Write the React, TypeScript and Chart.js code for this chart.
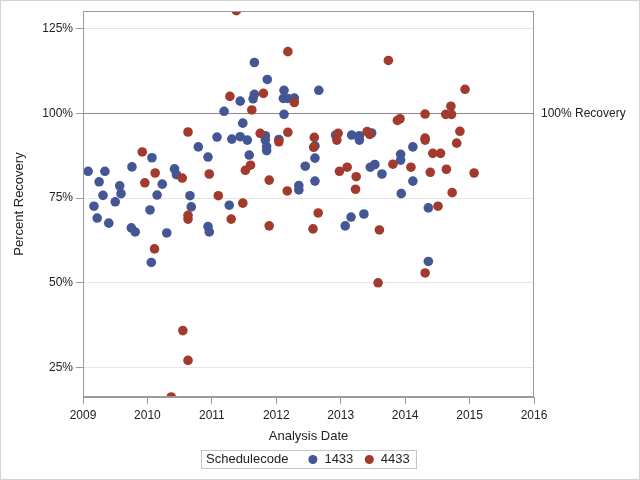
import React, { useEffect, useRef } from "react";
import { Chart, registerables } from "chart.js";

Chart.register(...registerables);

// Analysis dates as decimal years, percent recovery values
const dates1433 = [
  2009.08, 2009.17, 2009.22, 2009.25, 2009.31, 2009.34, 2009.40, 2009.50, 2009.57, 2009.59,
  2009.75, 2009.76, 2009.81, 2010.04, 2010.06, 2010.07, 2010.15, 2010.23, 2010.30, 2010.42,
  2010.45, 2010.66, 2010.68, 2010.79, 2010.94, 2010.94, 2010.96, 2011.08, 2011.19, 2011.27,
  2011.31, 2011.44, 2011.44, 2011.48, 2011.55, 2011.58, 2011.64, 2011.66, 2011.66, 2011.83,
  2011.83, 2011.85, 2011.85, 2011.86, 2012.04, 2012.11, 2012.12, 2012.12, 2012.18, 2012.28,
  2012.35, 2012.35, 2012.45, 2012.60, 2012.60, 2012.60, 2012.66, 2012.92, 2013.07, 2013.16,
  2013.17, 2013.29, 2013.29, 2013.36, 2013.46, 2013.48, 2013.53, 2013.64, 2013.93, 2013.93,
  2013.94, 2014.12, 2014.12, 2014.36, 2014.36,
];
const pct1433 = [
  82.9, 72.6, 69.1, 79.8, 75.8, 82.9, 67.6, 73.9, 78.6, 76.3,
  66.2, 84.2, 65.0, 71.5, 56.0, 86.9, 75.9, 79.1, 64.7, 83.6,
  81.9, 75.7, 72.4, 90.1, 87.1, 66.6, 65.0, 93.0, 100.6, 72.9,
  92.4, 103.6, 93.1, 97.1, 92.1, 87.7, 104.3, 105.6, 115.0, 93.4,
  92.1, 90.2, 89.0, 110.0, 92.3, 104.4, 106.8, 99.7, 104.4, 104.5,
  78.7, 77.4, 84.4, 90.4, 86.8, 80.0, 106.8, 93.6, 66.8, 69.4,
  93.6, 93.4, 92.1, 70.3, 84.1, 94.2, 84.9, 82.1, 87.9, 86.2,
  76.3, 90.1, 80.0, 72.1, 56.3,
];
const dates4433 = [
  2009.92, 2009.96, 2010.11, 2010.12, 2010.37, 2010.54, 2010.55, 2010.63, 2010.63, 2010.63,
  2010.63, 2010.96, 2011.10, 2011.28, 2011.30, 2011.38, 2011.48, 2011.52, 2011.60, 2011.62,
  2011.75, 2011.80, 2011.89, 2011.89, 2012.04, 2012.17, 2012.18, 2012.18, 2012.28, 2012.57,
  2012.58, 2012.59, 2012.65, 2012.94, 2012.96, 2012.98, 2013.10, 2013.23, 2013.24, 2013.41,
  2013.45, 2013.58, 2013.60, 2013.74, 2013.81, 2013.88, 2013.92, 2014.09, 2014.31, 2014.31,
  2014.31, 2014.31, 2014.39, 2014.43, 2014.51, 2014.55, 2014.63, 2014.64, 2014.71, 2014.72,
  2014.73, 2014.80, 2014.85, 2014.93, 2015.07,
];
const pct4433 = [
  88.6, 79.5, 60.0, 82.4, 16.3, 80.9, 35.9, 94.5, 69.9, 68.8,
  27.1, 82.1, 75.7, 105.0, 68.8, 130.3, 73.5, 83.2, 84.7, 101.0,
  94.1, 105.9, 80.3, 66.8, 91.6, 77.1, 118.2, 94.4, 103.2, 65.9,
  90.0, 92.9, 70.6, 92.1, 94.1, 82.9, 84.1, 77.6, 81.3, 94.6,
  93.8, 50.0, 65.6, 115.6, 85.0, 97.9, 98.4, 84.1, 99.8, 92.7,
  92.1, 52.9, 82.6, 88.2, 72.6, 88.2, 99.7, 83.5, 102.1, 99.7,
  76.6, 91.2, 94.7, 107.1, 82.4,
];

const xTickYears = [2009, 2010, 2011, 2012, 2013, 2014, 2015, 2016];
const yTickValues = [25, 50, 75, 100, 125];
const seriesNames = ["1433", "4433"];
const legendTitle = "Schedulecode";
const referenceValue = 100;
const referenceLabel = "100% Recovery";

const BLUE = "#445694";
const RED = "#A23A2E";
const AXIS = "#9b9b9b";
const GRID = "#e6e6e6";
const TEXT = "#222222";
const FONT = "'Liberation Sans', Arial, sans-serif";

const toPoints = (xs: number[], ys: number[]) => xs.map((x, i) => ({ x, y: ys[i] }));

const decorPlugin = {
  id: "decor",
  beforeDatasetsDraw(chart: any) {
    const { ctx, chartArea, scales } = chart;
    const y = Math.round(scales.y.getPixelForValue(referenceValue)) + 0.5;
    ctx.save();
    ctx.strokeStyle = "#8a8a8a";
    ctx.lineWidth = 1;
    ctx.beginPath();
    ctx.moveTo(chartArea.left, y);
    ctx.lineTo(chartArea.right, y);
    ctx.stroke();
    ctx.restore();
  },
  afterDraw(chart: any) {
    const { ctx, chartArea, scales, width, height } = chart;
    ctx.save();
    // plot frame
    ctx.strokeStyle = AXIS;
    ctx.lineWidth = 1;
    ctx.strokeRect(
      Math.round(chartArea.left) + 0.5,
      Math.round(chartArea.top) + 0.5,
      Math.round(chartArea.right - chartArea.left) - 1,
      Math.round(chartArea.bottom - chartArea.top) - 1
    );
    // reference label
    const y = scales.y.getPixelForValue(referenceValue);
    ctx.fillStyle = TEXT;
    ctx.font = `12px ${FONT}`;
    ctx.textAlign = "left";
    ctx.textBaseline = "middle";
    ctx.fillText(referenceLabel, chartArea.right + 7, y);

    // legend
    ctx.font = `13px ${FONT}`;
    const tW = ctx.measureText(legendTitle).width;
    const w1 = ctx.measureText(seriesNames[0]).width;
    const w2 = ctx.measureText(seriesNames[1]).width;
    const total = 5 + tW + 24.5 + 11.5 + w1 + 16 + 11.5 + w2 + 6;
    const cx = (chartArea.left + chartArea.right) / 2;
    const bx = Math.round(cx - total / 2);
    const by = 450;
    const bh = 18;
    ctx.strokeStyle = "#c4c4c4";
    ctx.strokeRect(bx + 0.5, by + 0.5, Math.round(total), bh);
    const my = by + bh / 2 + 0.5;
    let x = bx + 5;
    ctx.fillStyle = TEXT;
    ctx.fillText(legendTitle, x, my);
    x += tW + 24.5;
    ctx.fillStyle = BLUE;
    ctx.beginPath();
    ctx.arc(x, my, 4.5, 0, Math.PI * 2);
    ctx.fill();
    x += 11.5;
    ctx.fillStyle = TEXT;
    ctx.fillText(seriesNames[0], x, my);
    x += w1 + 16;
    ctx.fillStyle = RED;
    ctx.beginPath();
    ctx.arc(x, my, 4.5, 0, Math.PI * 2);
    ctx.fill();
    x += 11.5;
    ctx.fillStyle = TEXT;
    ctx.fillText(seriesNames[1], x, my);

    // outer image frame
    ctx.strokeStyle = "#d4d4d4";
    ctx.strokeRect(0.5, 0.5, width - 1, height - 1);
    ctx.restore();
  },
};

export default function App() {
  const ref = useRef<HTMLCanvasElement | null>(null);

  useEffect(() => {
    if (!ref.current) return;
    const chart = new Chart(ref.current, {
      type: "scatter",
      data: {
        datasets: [
          {
            label: seriesNames[0],
            data: toPoints(dates1433, pct1433),
            backgroundColor: BLUE,
            borderWidth: 0,
            pointRadius: 4.8,
            pointHoverRadius: 4.8,
            order: 2,
          },
          {
            label: seriesNames[1],
            data: toPoints(dates4433, pct4433),
            backgroundColor: RED,
            borderWidth: 0,
            pointRadius: 4.8,
            pointHoverRadius: 4.8,
            order: 1,
          },
        ],
      },
      options: {
        responsive: false,
        animation: false,
        devicePixelRatio: 1,
        layout: { padding: { left: 0, right: 106, top: 11, bottom: 0 } },
        plugins: {
          legend: { display: false },
          tooltip: { enabled: false },
        },
        scales: {
          x: {
            type: "linear",
            min: 2009,
            max: 2016,
            afterBuildTicks: (s: any) => {
              s.ticks = xTickYears.map((v) => ({ value: v }));
            },
            afterFit: (s: any) => {
              s.height = 83;
            },
            ticks: {
              color: TEXT,
              font: { family: FONT, size: 12 },
              padding: 4,
              maxRotation: 0,
              callback: (v: any) => String(v),
            },
            grid: {
              drawOnChartArea: false,
              tickLength: 7,
              color: AXIS,
              tickColor: AXIS,
            },
            border: { display: true, color: AXIS },
            title: {
              display: true,
              text: "Analysis Date",
              color: TEXT,
              font: { family: FONT, size: 13 },
              padding: { top: 0, bottom: 35.5 },
            },
          },
          y: {
            type: "linear",
            min: 16.3,
            max: 130.2,
            afterBuildTicks: (s: any) => {
              s.ticks = yTickValues.map((v) => ({ value: v }));
            },
            afterFit: (s: any) => {
              s.width = 83;
            },
            ticks: {
              color: TEXT,
              font: { family: FONT, size: 12 },
              padding: 3,
              callback: (v: any) => `${v}%`,
            },
            grid: {
              color: GRID,
              tickColor: AXIS,
              tickLength: 7,
            },
            border: { display: true, color: AXIS },
            title: {
              display: true,
              text: "Percent Recovery",
              color: TEXT,
              font: { family: FONT, size: 13 },
              padding: { top: 12, bottom: 0 },
            },
          },
        },
      },
      plugins: [decorPlugin],
    } as any);
    return () => chart.destroy();
  }, []);

  return (
    <div style={{ position: "absolute", left: 0, top: 0, width: 640, height: 480, background: "#fff" }}>
      <canvas ref={ref} width={640} height={480} style={{ display: "block" }} />
    </div>
  );
}
